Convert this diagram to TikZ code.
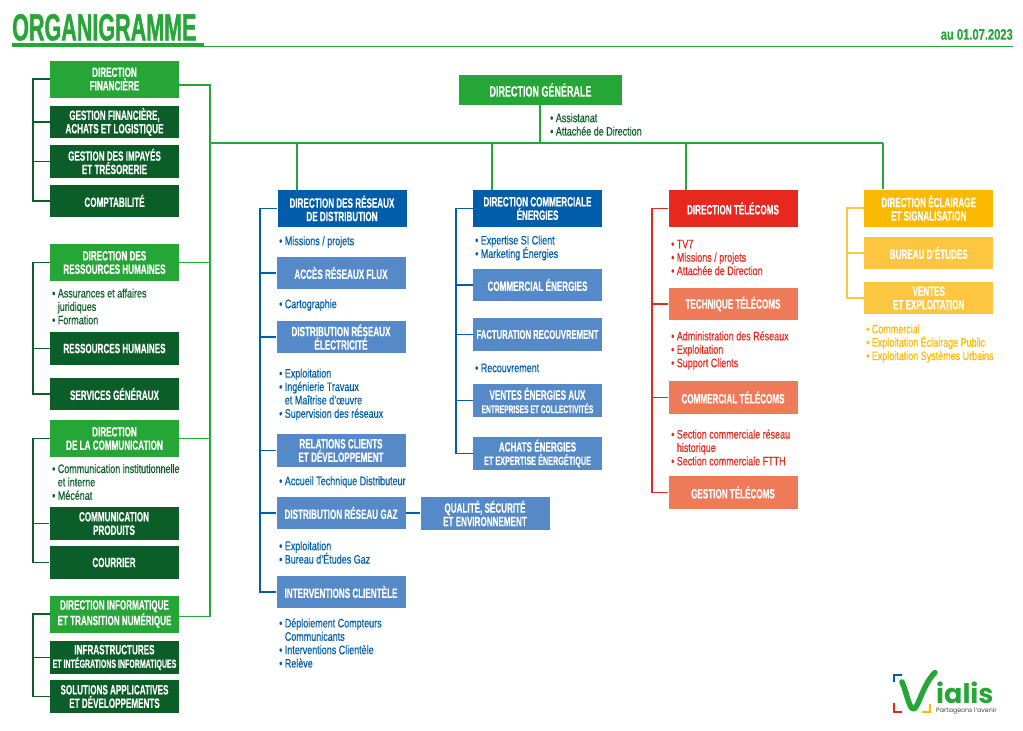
\documentclass[tikz,border=0pt]{standalone}
\usepackage{fontspec}
\setmainfont[FakeStretch=0.6,FakeBold=0.35]{Liberation Sans}
\newfontfamily\listfont[FakeStretch=0.73,FakeBold=0.4]{Liberation Sans}
\newfontfamily\titlefont[FakeStretch=0.567,FakeBold=1]{Liberation Sans}
\newfontfamily\logofont{Poppins}
\usetikzlibrary{calc}
\definecolor{vgreen}{HTML}{27A638}
\definecolor{vdark}{HTML}{0B5E27}
\definecolor{vblue}{HTML}{005DAA}
\definecolor{vsky}{HTML}{5589C7}
\definecolor{vred}{HTML}{E6281E}
\definecolor{vsalmon}{HTML}{EF7A5A}
\definecolor{vamber}{HTML}{FBBA00}
\definecolor{vsand}{HTML}{FDC640}
\tikzset{
	boxbase/.style={inner sep=0pt, text=white, align=center, minimum width=129pt, font=\fontsize{13.5}{13.4}\selectfont\bfseries},
	headbox/.style={boxbase, minimum height=37pt},
	subbox/.style={boxbase, minimum height=32.5pt},
	listtxt/.style={anchor=west, inner sep=0pt, align=left, font=\fontsize{12.3}{13.4}\listfont},
	rail/.style={line width=1.5pt},
}
\begin{document}
\begin{tikzpicture}[x=1pt, y=-1pt]
			%%%%% START %%%%%
			\useasboundingbox (0, 0) rectangle (1023, 731);
			
			% title
			\node[anchor=base west, inner sep=0pt, text=vgreen, font=\fontsize{38}{38}\titlefont\bfseries] (title) at (12, 40.5) {ORGANIGRAMME};
			\node[anchor=base east, inner sep=0pt, text=vgreen, font=\fontsize{15.3}{16}\listfont\bfseries] (date) at (1013, 39.7) {au 01.07.2023};
			\fill[vgreen] (12, 43) rectangle (204, 46.5);
			\draw[vgreen, line width=0.9pt] (12, 46.2) -- (1013, 46.2);
			
			% left column
			\node[headbox, fill=vgreen] (dfin) at (114.5, 79) {DIRECTION\\FINANCIÈRE};
			\node[subbox, fill=vdark] (gfin) at (114.5, 122) {GESTION FINANCIÈRE,\\ACHATS ET LOGISTIQUE};
			\node[subbox, fill=vdark] (gimp) at (114.5, 161.5) {GESTION DES IMPAYÉS\\ET TRÉSORERIE};
			\node[subbox, fill=vdark] (compta) at (114.5, 201) {COMPTABILITÉ};
			
			\node[headbox, fill=vgreen] (drh) at (114.5, 262.5) {DIRECTION DES\\RESSOURCES HUMAINES};
			\node[listtxt, text=vdark] (lrh) at (52, 306.5) {• Assurances et affaires\\\phantom{• }juridiques\\• Formation};
			\node[subbox, fill=vdark] (rh) at (114.5, 348.5) {RESSOURCES HUMAINES};
			\node[subbox, fill=vdark] (sg) at (114.5, 394) {SERVICES GÉNÉRAUX};
			
			\node[headbox, fill=vgreen] (dcom) at (114.5, 438.5) {DIRECTION\\DE LA COMMUNICATION};
			\node[listtxt, text=vdark] (lcom) at (52, 482) {• Communication institutionnelle\\\phantom{• }et interne\\• Mécénat};
			\node[subbox, fill=vdark] (cprod) at (114, 523.5) {COMMUNICATION\\PRODUITS};
			\node[subbox, fill=vdark] (cour) at (114, 562.5) {COURRIER};
			
			\node[headbox, fill=vgreen] (dinf) at (114.5, 614) {DIRECTION INFORMATIQUE\\ET TRANSITION NUMÉRIQUE};
			\node[subbox, fill=vdark] (infra) at (114.5, 657.5) {INFRASTRUCTURES\\{\fontsize{11.7}{13.4}\selectfont ET INTÉGRATIONS INFORMATIQUES}};
			\node[subbox, fill=vdark] (sol) at (114.5, 696.5) {SOLUTIONS APPLICATIVES\\ET DÉVELOPPEMENTS};
			
			\draw[rail, vdark] (dfin.west) -| (33, 201) -- (compta.west);
			\draw[rail, vdark] (gfin.west) -- (33, 122);
			\draw[rail, vdark] (gimp.west) -- (33, 161.5);
			\draw[rail, vdark] (drh.west) -| (33, 394) -- (sg.west);
			\draw[rail, vdark] (rh.west) -- (33, 348.5);
			\draw[rail, vdark] (dcom.west) -| (33, 562.5) -- (cour.west);
			\draw[rail, vdark] (cprod.west) -- (33, 523.5);
			\draw[rail, vdark] (dinf.west) -| (33, 696.5) -- (sol.west);
			\draw[rail, vdark] (infra.west) -- (33, 657.5);
			
			% general direction
			\node[inner sep=0pt, minimum width=163pt, minimum height=30pt, fill=vgreen, text=white, font=\fontsize{15}{15}\selectfont\bfseries] (dgen) at (540.5, 90) {DIRECTION GÉNÉRALE};
			\node[listtxt, text=vdark] (lgen) at (550, 124.5) {• Assistanat\\• Attachée de Direction};
			\coordinate (hub) at (540, 143);
			
			\draw[rail, vgreen] (dgen.south -| hub) -- (hub);
			\draw[rail, vgreen] (210, 143) -- (883, 143);
			\draw[rail, vgreen] ([yshift=-6pt]dfin.east) -| (210, 616.5) -- (dinf.east |- 0, 616.5);
			\draw[rail, vgreen] (drh.east) -- (210, 262.5);
			\draw[rail, vgreen] (dcom.east) -- (210, 438.5);
			
			% networks
			\node[headbox, fill=vblue] (dres) at (342, 208.5) {DIRECTION DES RÉSEAUX\\DE DISTRIBUTION};
			\node[listtxt, text=vblue] (lres) at (279, 242) {• Missions / projets};
			\node[subbox, fill=vsky] (flux) at (341, 273) {ACCÈS RÉSEAUX FLUX};
			\node[listtxt, text=vblue] (lflux) at (279, 305) {• Cartographie};
			\node[subbox, fill=vsky] (elec) at (341, 337) {DISTRIBUTION RÉSEAUX\\ÉLECTRICITÉ};
			\node[listtxt, text=vblue] (lelec) at (279, 394.5) {• Exploitation\\• Ingénierie Travaux\\\phantom{• }et Maîtrise d’œuvre\\• Supervision des réseaux};
			\node[subbox, fill=vsky] (rel) at (341, 450.5) {RELATIONS CLIENTS\\ET DÉVELOPPEMENT};
			\node[listtxt, text=vblue] (lrel) at (279, 482) {• Accueil Technique Distributeur};
			\node[subbox, fill=vsky] (gaz) at (341, 513) {DISTRIBUTION RÉSEAU GAZ};
			\node[subbox, fill=vsky] (qual) at (485, 513.5) {QUALITÉ, SÉCURITÉ\\ET ENVIRONNEMENT};
			\node[listtxt, text=vblue] (lgaz) at (279, 552.5) {• Exploitation\\• Bureau d’Études Gaz};
			\node[subbox, fill=vsky] (inter) at (341, 592) {INTERVENTIONS CLIENTÈLE};
			\node[listtxt, text=vblue] (linter) at (279, 643) {• Déploiement Compteurs\\\phantom{• }Communicants\\• Interventions Clientèle\\• Relève};
			
			\draw[rail, vgreen] (dres.north -| 297, 0) -- (297, 143);
			\draw[rail, vblue] (dres.west) -| (260, 592) -- (inter.west);
			\draw[rail, vblue] (flux.west) -- (260, 273);
			\draw[rail, vblue] (elec.west) -- (260, 337);
			\draw[rail, vblue] (rel.west) -- (260, 450.5);
			\draw[rail, vblue] (gaz.west) -- (260, 513);
			\draw[rail, vblue] (gaz.east) -- (qual.west |- gaz.east);
			
			% energies
			\node[headbox, fill=vblue] (dene) at (537.5, 208.5) {DIRECTION COMMERCIALE\\ÉNERGIES};
			\node[listtxt, text=vblue] (lene) at (475, 248) {• Expertise SI Client\\• Marketing Énergies};
			\node[subbox, fill=vsky] (come) at (537.5, 285) {COMMERCIAL ÉNERGIES};
			\node[subbox, fill=vsky, font=\fontsize{12.8}{13.4}\selectfont\bfseries] (fact) at (537.5, 334.5) {FACTURATION RECOUVREMENT};
			\node[listtxt, text=vblue] (lfact) at (475, 368) {• Recouvrement};
			\node[subbox, fill=vsky] (vent) at (537.5, 400.5) {VENTES ÉNERGIES AUX\\{\fontsize{11.1}{13.4}\selectfont ENTREPRISES ET COLLECTIVITÉS}};
			\node[subbox, fill=vsky] (ach) at (537.5, 453.5) {ACHATS ÉNERGIES\\{\fontsize{12.1}{13.4}\selectfont ET EXPERTISE ÉNERGÉTIQUE}};
			
			\draw[rail, vgreen] (dene.north -| 492, 0) -- (492, 143);
			\draw[rail, vblue] (dene.west) -| (456, 453.5) -- (ach.west);
			\draw[rail, vblue] (come.west) -- (456, 285);
			\draw[rail, vblue] (fact.west) -- (456, 334.5);
			\draw[rail, vblue] (vent.west) -- (456, 400.5);
			
			% telecoms
			\node[headbox, fill=vred] (dtel) at (733, 208.5) {DIRECTION TÉLÉCOMS};
			\node[listtxt, text=vred] (ltel) at (671, 257.5) {• TV7\\• Missions / projets\\• Attachée de Direction};
			\node[subbox, fill=vsalmon] (tech) at (733, 304) {TECHNIQUE TÉLÉCOMS};
			\node[listtxt, text=vred] (ltech) at (671, 350.5) {• Administration des Réseaux\\• Exploitation\\• Support Clients};
			\node[subbox, fill=vsalmon] (comt) at (733, 397.5) {COMMERCIAL TÉLÉCOMS};
			\node[listtxt, text=vred] (lcomt) at (671, 447.5) {• Section commerciale réseau\\\phantom{• }historique\\• Section commerciale FTTH};
			\node[subbox, fill=vsalmon] (gest) at (733, 492.5) {GESTION TÉLÉCOMS};
			
			\draw[rail, vgreen] (dtel.north -| 686, 0) -- (686, 143);
			\draw[rail, vred] (dtel.west) -| (652, 492.5) -- (gest.west);
			\draw[rail, vred] (tech.west) -- (652, 304);
			\draw[rail, vred] (comt.west) -- (652, 397.5);
			
			% lighting
			\node[headbox, fill=vamber] (dece) at (928.7, 208) {DIRECTION ÉCLAIRAGE\\ET SIGNALISATION};
			\node[subbox, fill=vsand] (bur) at (928.7, 253) {BUREAU D’ÉTUDES};
			\node[subbox, fill=vsand] (vexp) at (928.7, 298) {VENTES\\ET EXPLOITATION};
			\node[listtxt, text=vamber] (lexp) at (866, 343.5) {• Commercial\\• Exploitation Éclairage Public\\• Exploitation Systèmes Urbains};
			
			\draw[rail, vgreen] (dece.north -| 883, 0) -- (883, 143);
			\draw[rail, vsand] (dece.west) -| (847, 298) -- (vexp.west);
			\draw[rail, vsand] (bur.west) -- (847, 253);
			
			% logo
			\draw[vblue, line width=2pt] (893.5, 682) -- (893.5, 674.5) -- (902, 674.5);
			\draw[vred, line width=2pt] (893.5, 703) -- (893.5, 711.5) -- (902, 711.5);
			\draw[vamber, line width=2pt] (922, 711.5) -- (930, 711.5) -- (930, 704);
			\draw[vgreen, line width=5.5pt, line cap=round, line join=round] (902, 682) .. controls (906, 690) and (909, 709) .. (913.5, 709) .. controls (918, 709) and (923, 684) .. (935, 672.5);
			\node[anchor=base west, inner sep=0pt, text=vgreen, font=\fontsize{27}{27}\logofont\bfseries] (logo) at (936, 703.5) {ialis};
			\node[anchor=base west, inner sep=0pt, text=black!75, font=\fontsize{6.3}{7}\logofont] (motto) at (936, 712.7) {Partageons l’avenir};
			
			%%%%% END %%%%%
\end{tikzpicture}
\end{document}
